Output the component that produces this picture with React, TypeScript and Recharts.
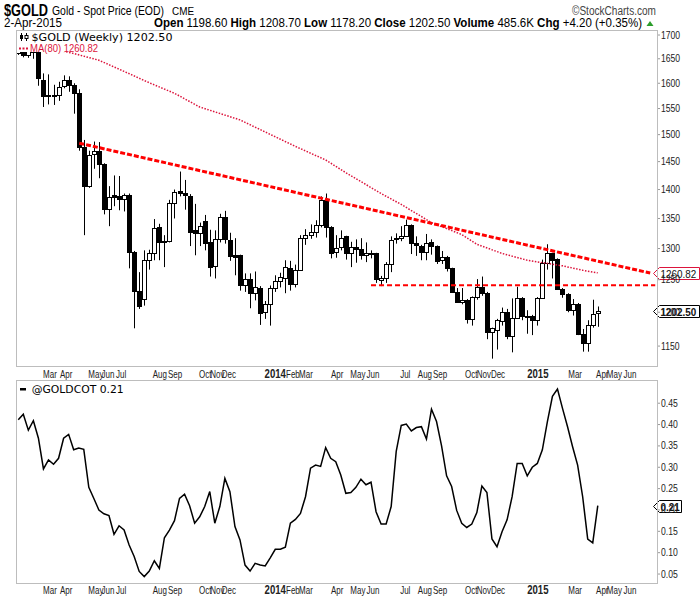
import React from 'react'
import { ComposedChart, Bar, Line, XAxis, YAxis, ReferenceLine } from 'recharts'

const SANS = "'Liberation Sans', Arial, sans-serif"
const WIDE = "'DejaVu Sans', Verdana, sans-serif"

// weekly bars, week 0 = 18-Jan-2013 ... week 115 = 2-Apr-2015
const opens = [
  1662, 1687, 1657, 1667, 1665, 1607, 1577, 1575, 1577, 1594,
  1607, 1597, 1580, 1476, 1407, 1464, 1469, 1446, 1366, 1391,
  1389, 1384, 1391, 1295, 1232, 1220, 1282, 1293, 1335, 1310,
  1312, 1377, 1398, 1394, 1389, 1331, 1326, 1345, 1310, 1271,
  1316, 1352, 1314, 1289, 1289, 1241, 1251, 1229, 1237, 1200,
  1212, 1237, 1248, 1252, 1268, 1243, 1265, 1318, 1323, 1328,
  1339, 1382, 1336, 1294, 1302, 1320, 1292, 1302, 1300, 1289,
  1293, 1292, 1250, 1252, 1275, 1315, 1317, 1321, 1339, 1309,
  1304, 1294, 1310, 1304, 1281, 1287, 1268, 1231, 1216, 1219,
  1190, 1223, 1239, 1230, 1171, 1174, 1187, 1200, 1165, 1192,
  1222, 1195, 1194, 1188, 1222, 1277, 1293, 1283, 1235, 1228,
  1203, 1213, 1168, 1155, 1181, 1198.6,
]
const highs = [
  1694, 1692, 1679, 1684, 1670, 1620, 1618, 1597, 1603, 1616,
  1614, 1600, 1588, 1490, 1470, 1487, 1486, 1447, 1406, 1425,
  1424, 1393, 1393, 1296, 1262, 1297, 1298, 1349, 1341, 1322,
  1382, 1400, 1432, 1417, 1392, 1375, 1343, 1356, 1331, 1330,
  1358, 1363, 1326, 1317, 1290, 1260, 1260, 1263, 1240, 1217,
  1241, 1257, 1261, 1281, 1280, 1274, 1322, 1332, 1340, 1347,
  1388, 1393, 1337, 1322, 1330, 1321, 1311, 1315, 1317, 1310,
  1297, 1293, 1256, 1278, 1320, 1325, 1337, 1348, 1340, 1320,
  1306, 1324, 1315, 1305, 1296, 1288, 1269, 1237, 1237, 1220,
  1224, 1251, 1255, 1231, 1177, 1190, 1207, 1205, 1221, 1239,
  1223, 1203, 1196, 1223, 1282, 1307, 1293, 1284, 1237, 1229,
  1220, 1214, 1175, 1188, 1219, 1208.7,
]
const lows = [
  1658, 1653, 1652, 1650, 1595, 1553, 1558, 1557, 1565, 1590,
  1583, 1540, 1470, 1322, 1403, 1437, 1420, 1357, 1337, 1371,
  1364, 1362, 1268, 1176, 1205, 1210, 1266, 1281, 1281, 1270,
  1310, 1350, 1388, 1365, 1304, 1289, 1304, 1297, 1255, 1252,
  1310, 1308, 1280, 1257, 1233, 1231, 1206, 1218, 1181, 1190,
  1180, 1231, 1238, 1229, 1233, 1238, 1264, 1306, 1316, 1318,
  1335, 1318, 1284, 1285, 1297, 1282, 1270, 1277, 1282, 1278,
  1284, 1245, 1240, 1245, 1262, 1308, 1312, 1320, 1291, 1288,
  1281, 1281, 1290, 1275, 1275, 1263, 1230, 1214, 1212, 1183,
  1180, 1219, 1225, 1160, 1132, 1145, 1180, 1160, 1141, 1190,
  1188, 1168, 1166, 1180, 1222, 1266, 1252, 1234, 1222, 1200,
  1195, 1166, 1142, 1142, 1177, 1178.2,
]
const closes = [
  1687, 1657, 1667, 1666, 1610, 1575, 1574, 1577, 1592, 1607,
  1596, 1580, 1476, 1406, 1462, 1469, 1446, 1366, 1387, 1387,
  1384, 1390, 1295, 1232, 1210, 1281, 1293, 1334, 1311, 1313,
  1377, 1396, 1394, 1390, 1327, 1325, 1338, 1309, 1270, 1315,
  1352, 1315, 1288, 1287, 1241, 1251, 1229, 1238, 1199, 1212,
  1237, 1248, 1255, 1270, 1243, 1265, 1318, 1323, 1327, 1339,
  1381, 1335, 1293, 1301, 1318, 1293, 1302, 1300, 1289, 1293,
  1292, 1251, 1253, 1275, 1314, 1318, 1321, 1339, 1309, 1305,
  1294, 1309, 1304, 1280, 1287, 1268, 1231, 1216, 1219, 1190,
  1223, 1238, 1230, 1171, 1176, 1188, 1201, 1165, 1192, 1221,
  1195, 1193, 1188, 1222, 1277, 1293, 1281, 1235, 1228, 1203,
  1213, 1168, 1155, 1181, 1198, 1202.5,
]

// MA(80) read at a few weeks, joined by a line
const maWeeks = [6, 8, 11, 16, 21, 26, 31, 36, 44, 49, 55, 61, 65, 72, 76, 82, 88, 91, 96, 101, 108, 112, 115]
const maValues = [1672, 1668, 1661, 1647, 1624, 1601, 1580, 1553, 1528, 1505, 1478, 1453, 1430, 1393, 1374, 1343, 1323, 1307, 1292, 1281, 1272, 1265, 1260.82]

// @GOLDCOT, one value a week
const cotValues = [
  0.411, 0.424, 0.387, 0.409, 0.368, 0.296, 0.317, 0.307, 0.321, 0.368,
  0.377, 0.341, 0.345, 0.342, 0.253, 0.227, 0.2, 0.191, 0.187, 0.143,
  0.163, 0.153, 0.118, 0.091, 0.056, 0.044, 0.057, 0.081, 0.063, 0.135,
  0.153, 0.175, 0.227, 0.237, 0.21, 0.169, 0.184, 0.208, 0.243, 0.169,
  0.208, 0.274, 0.243, 0.161, 0.13, 0.071, 0.057, 0.075, 0.071, 0.069,
  0.088, 0.108, 0.108, 0.113, 0.169, 0.178, 0.192, 0.231, 0.298, 0.305,
  0.302, 0.346, 0.321, 0.313, 0.282, 0.239, 0.241, 0.253, 0.272, 0.259,
  0.265, 0.196, 0.167, 0.167, 0.208, 0.337, 0.398, 0.401, 0.385, 0.393,
  0.395, 0.366, 0.436, 0.407, 0.35, 0.28, 0.255, 0.199, 0.169, 0.159,
  0.167, 0.194, 0.256, 0.241, 0.132, 0.114, 0.149, 0.177, 0.231, 0.309,
  0.309, 0.28, 0.3, 0.309, 0.341, 0.407, 0.466, 0.483, 0.438, 0.395,
  0.348, 0.305, 0.231, 0.132, 0.123, 0.21,
]

// month labels (week position, text)
const tickWeeks = [6.3, 9.5, 15.4, 17.8, 20.4, 28.1, 31.1, 37.1, 39.5, 41.8, 51, 54.5, 57.1, 63.3, 67.4, 70.4, 76.8, 80.7, 83.7, 89.9, 92.4, 95.2, 103.1, 110.5, 115.9, 118.3, 121.4]
const tickNames = ['Mar', 'Apr', 'May', 'Jun', 'Jul', 'Aug', 'Sep', 'Oct', 'Nov', 'Dec', '2014', 'Feb', 'Mar', 'Apr', 'May', 'Jun', 'Jul', 'Aug', 'Sep', 'Oct', 'Nov', 'Dec', '2015', 'Mar', 'Apr', 'May', 'Jun']

const priceTicks = [1150, 1200, 1250, 1300, 1350, 1400, 1450, 1500, 1550, 1600, 1650, 1700]
const cotTicks = [0.05, 0.1, 0.15, 0.2, 0.25, 0.3, 0.35, 0.4, 0.45]

const candles = opens.map((open, i) => ({
  week: i,
  open,
  high: highs[i],
  low: lows[i],
  close: closes[i],
  range: [lows[i], highs[i]],
  ma: null as number | null,
}))
maWeeks.forEach((w, k) => {
  candles[w].ma = maValues[k]
})
const cot = cotValues.map((v, i) => ({ week: i, cot: v }))

const xDomain = [-0.25, 126.75]

function Candle(props: any) {
  const { x, y, width, height, payload } = props
  const { open, close, high, low } = payload
  const cx = Math.round(x + width / 2) + 0.5
  const span = Math.log(high) - Math.log(low)
  const py = (v: number) => y + (span > 0 ? (height * (Math.log(high) - Math.log(v))) / span : 0)
  const top = Math.round(Math.min(py(open), py(close))) + 0.5
  const bot = Math.round(Math.max(py(open), py(close))) + 0.5
  const up = close >= open
  return (
    <g>
      <line x1={cx} x2={cx} y1={y} y2={y + height} stroke="#000" strokeWidth={1} />
      <rect x={cx - 2} y={top} width={4} height={Math.max(bot - top, 1)} fill={up ? '#fff' : '#000'} stroke="#000" strokeWidth={1} />
    </g>
  )
}

const monthTick = (dy: number) => (props: any) => {
  const { x, y, payload } = props
  const label = tickNames[tickWeeks.indexOf(payload.value)]
  const year = /^\d{4}$/.test(label)
  return (
    <text
      transform={`translate(${x},${y + dy}) scale(0.8,1)`}
      textAnchor="middle"
      fontFamily={SANS}
      fontSize={year ? 12 : 10}
      fontWeight={year ? 'bold' : 'normal'}
      fill="#222"
    >
      {label}
    </text>
  )
}

const valueTick = (fmt: (v: number) => string) => (props: any) => {
  const { x, y, payload } = props
  return (
    <text transform={`translate(${x},${y + 3.5}) scale(0.82,1)`} fontFamily={SANS} fontSize={10.5} fill="#222">
      {fmt(payload.value)}
    </text>
  )
}

const tag = (text: string, color: string, bold: boolean, w: number) => (props: any) => {
  const vb = props.viewBox || props
  const y = Math.round(vb.y) + 0.5
  const x0 = Math.round(vb.x + vb.width) - 3.5
  return (
    <g>
      <path d={`M${x0},${y} L${x0 + 6},${y - 6} L${x0 + w},${y - 6} L${x0 + w},${y + 6} L${x0 + 6},${y + 6} Z`} fill="#fff" stroke={color} strokeWidth={1} />
      <text transform={`translate(${x0 + 7},${y + 4}) scale(0.86,1)`} fontFamily={SANS} fontSize={11.5} fontWeight={bold ? 'bold' : 'normal'} fill="#111">
        {text}
      </text>
    </g>
  )
}

export default function App() {
  return (
    <div style={{ position: 'relative', width: 700, height: 600, background: '#fff', overflow: 'hidden' }}>
      <style>{'body{margin:0}'}</style>

      <div style={{ position: 'absolute', left: 0, top: 0 }}>
        <ComposedChart width={700} height={380} data={candles} margin={{ top: 31, right: 0, bottom: 0, left: 17 }}>
          <XAxis
            dataKey="week"
            type="number"
            domain={xDomain}
            allowDataOverflow
            ticks={tickWeeks}
            interval={0}
            tickLine={false}
            axisLine={false}
            tickSize={0}
            tickMargin={0}
            height={15}
            tick={monthTick(13)}
          />
          <YAxis
            orientation="right"
            scale="log"
            domain={[1123, 1708.6]}
            allowDataOverflow
            ticks={priceTicks}
            interval={0}
            width={43}
            axisLine={false}
            tickLine={{ stroke: '#999' }}
            tickSize={3}
            tickMargin={1}
            tick={valueTick((v) => String(v))}
          />
          <Bar dataKey="range" barSize={5} shape={Candle} isAnimationActive={false} />
          <Line dataKey="ma" type="linear" connectNulls dot={false} stroke="#dc143c" strokeWidth={1.5} strokeDasharray="1.5 1.5" isAnimationActive={false} />
          <ReferenceLine segment={[{ x: 12.1, y: 1484 }, { x: 125.4, y: 1260.5 }]} stroke="#ff0000" strokeWidth={3} strokeDasharray="5 2" />
          <ReferenceLine segment={[{ x: 70, y: 1241.5 }, { x: 126.4, y: 1241.5 }]} stroke="#ff0000" strokeWidth={2} strokeDasharray="5 3" />
          <ReferenceLine y={1260.82} stroke="none" label={tag('1260.82', '#dc143c', false, 46)} />
          <ReferenceLine y={1202.5} stroke="none" label={tag('1202.50', '#000', true, 46)} />
        </ComposedChart>
      </div>

      <div style={{ position: 'absolute', left: 0, top: 366 }}>
        <ComposedChart width={700} height={234} data={cot} margin={{ top: 15, right: 0, bottom: 0, left: 17 }}>
          <XAxis
            dataKey="week"
            type="number"
            domain={xDomain}
            allowDataOverflow
            ticks={tickWeeks}
            interval={0}
            tickLine={false}
            axisLine={false}
            tickSize={0}
            tickMargin={0}
            height={17}
            tick={monthTick(10.5)}
          />
          <YAxis
            orientation="right"
            domain={[0.029, 0.502]}
            allowDataOverflow
            ticks={cotTicks}
            interval={0}
            width={43}
            axisLine={false}
            tickLine={{ stroke: '#999' }}
            tickSize={3}
            tickMargin={1}
            tick={valueTick((v) => v.toFixed(2))}
          />
          <Line dataKey="cot" type="linear" dot={false} stroke="#000" strokeWidth={1.5} isAnimationActive={false} />
          <ReferenceLine y={0.21} stroke="none" label={tag('0.21', '#000', true, 28)} />
        </ComposedChart>
      </div>

      <div style={{ position: 'absolute', left: 16, top: 30, width: 640, height: 335, border: '1px solid #bdbdbd', pointerEvents: 'none' }} />
      <div style={{ position: 'absolute', left: 16, top: 380, width: 640, height: 202, border: '1px solid #bdbdbd', pointerEvents: 'none' }} />
      <div style={{ position: 'absolute', left: 17, top: 31, width: 158, height: 21, background: '#fff' }} />
      <div style={{ position: 'absolute', left: 17, top: 382, width: 110, height: 13, background: '#fff' }} />

      <svg width={700} height={600} style={{ position: 'absolute', left: 0, top: 0, pointerEvents: 'none' }}>
        <text x={4} y={15.5} fontFamily={SANS} fontWeight="bold" fontSize={17} textLength={44} lengthAdjust="spacingAndGlyphs">$GOLD</text>
        <text x={52} y={15} fontFamily={SANS} fontSize={12} textLength={112} lengthAdjust="spacingAndGlyphs">Gold - Spot Price (EOD)</text>
        <text x={172} y={15} fontFamily={SANS} fontSize={10.5} textLength={22} lengthAdjust="spacingAndGlyphs">CME</text>
        <text x={572} y={15} fontFamily={SANS} fontSize={12} fill="#444" textLength={84} lengthAdjust="spacingAndGlyphs">©StockCharts.com</text>
        <text x={4} y={27} fontFamily={SANS} fontSize={12} textLength={58} lengthAdjust="spacingAndGlyphs">2-Apr-2015</text>
        <text x={154} y={27} fontFamily={SANS} fontSize={12} textLength={488} lengthAdjust="spacingAndGlyphs">
          <tspan fontWeight="bold">Open</tspan> 1198.60 <tspan fontWeight="bold">High</tspan> 1208.70 <tspan fontWeight="bold">Low</tspan> 1178.20{' '}
          <tspan fontWeight="bold">Close</tspan> 1202.50 <tspan fontWeight="bold">Volume</tspan> 485.6K <tspan fontWeight="bold">Chg</tspan> +4.20 (+0.35%)
        </text>
        <path d="M646.5,26 L650,21 L653.5,26 Z" fill="#2a9d2a" />

        <g>
          <line x1={21.5} x2={21.5} y1={33} y2={41} stroke="#000" />
          <rect x={20} y={35} width={3} height={4} fill="#000" />
          <line x1={26.5} x2={26.5} y1={33} y2={41} stroke="#000" />
          <rect x={25} y={35.5} width={3} height={3} fill="#fff" stroke="#000" />
        </g>
        <text x={31.5} y={41} fontFamily={WIDE} fontSize={11} textLength={141} lengthAdjust="spacingAndGlyphs">$GOLD (Weekly) 1202.50</text>
        <line x1={19} x2={28} y1={48.5} y2={48.5} stroke="#dc143c" strokeWidth={2} strokeDasharray="2 1.5" />
        <text x={30} y={51.5} fontFamily={SANS} fontSize={10.5} fill="#dc143c" textLength={68} lengthAdjust="spacingAndGlyphs">MA(80) 1260.82</text>

        <rect x={20} y={388} width={6} height={2.5} fill="#000" />
        <text x={31.7} y={392.5} fontFamily={WIDE} fontSize={11} textLength={92} lengthAdjust="spacingAndGlyphs">@GOLDCOT 0.21</text>
      </svg>
    </div>
  )
}
